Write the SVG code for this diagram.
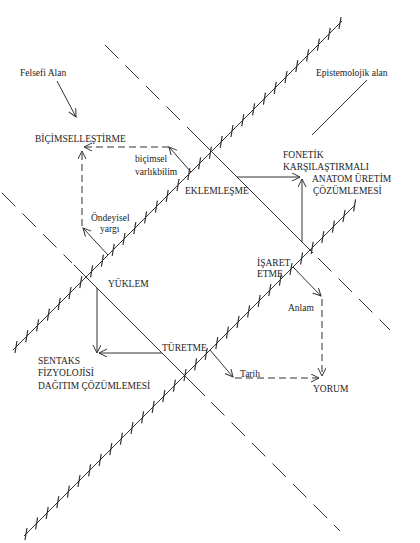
<svg xmlns="http://www.w3.org/2000/svg" width="420" height="543" viewBox="0 0 420 543">
<style>
  text { font-family: "Liberation Serif", "DejaVu Serif", serif; font-size: 9.5px; fill: #222; }
  .ln { stroke: #333; stroke-width: 1; fill: none; }
  .dl { stroke: #333; stroke-width: 1; fill: none; stroke-dasharray: 19 10; }
  .da { stroke: #333; stroke-width: 1; fill: none; stroke-dasharray: 7 4; }
  .tk { stroke: #333; stroke-width: 1.2; fill: none; }
  .arr { marker-end: url(#ah); }
</style>
<defs>
  <marker id="ah" markerUnits="userSpaceOnUse" markerWidth="10" markerHeight="10" refX="8" refY="4" orient="auto">
    <path d="M0,0 L8,4 L0,8" fill="none" stroke="#333" stroke-width="1"/>
  </marker>
</defs>
<rect width="420" height="543" fill="#ffffff"/>

<g id="axes">
  <g id="hatch-upper">
    <line class="ln" x1="13" y1="350" x2="342" y2="21"/>
    <path class="tk" d="M15,353 l2,-12 m8.8,1.2 l2,-12 m8.8,1.2 l2,-12 m8.8,1.2 l2,-12 m8.8,1.2 l2,-12 m8.8,1.2 l2,-12 m8.8,1.2 l2,-12 m8.8,1.2 l2,-12 m8.8,1.2 l2,-12 m8.8,1.2 l2,-12 m8.8,1.2 l2,-12 m8.8,1.2 l2,-12 m8.8,1.2 l2,-12 m8.8,1.2 l2,-12 m8.8,1.2 l2,-12 m8.8,1.2 l2,-12 m8.8,1.2 l2,-12 m8.8,1.2 l2,-12 m8.8,1.2 l2,-12 m8.8,1.2 l2,-12 m8.8,1.2 l2,-12 m8.8,1.2 l2,-12 m8.8,1.2 l2,-12 m8.8,1.2 l2,-12 m8.8,1.2 l2,-12 m8.8,1.2 l2,-12 m8.8,1.2 l2,-12 m8.8,1.2 l2,-12 m8.8,1.2 l2,-12 m8.8,1.2 l2,-12 m8.8,1.2 l2,-12"/>
  </g>
  <g id="hatch-lower">
    <line class="ln" x1="24" y1="536" x2="355" y2="205"/>
    <path class="tk" d="M25,540 l2,-12 m8.6,1.4 l2,-12 m8.6,1.4 l2,-12 m8.6,1.4 l2,-12 m8.6,1.4 l2,-12 m8.6,1.4 l2,-12 m8.6,1.4 l2,-12 m8.6,1.4 l2,-12 m8.6,1.4 l2,-12 m8.6,1.4 l2,-12 m8.6,1.4 l2,-12 m8.6,1.4 l2,-12 m8.6,1.4 l2,-12 m8.6,1.4 l2,-12 m8.6,1.4 l2,-12 m8.6,1.4 l2,-12 m8.6,1.4 l2,-12 m8.6,1.4 l2,-12 m8.6,1.4 l2,-12 m8.6,1.4 l2,-12 m8.6,1.4 l2,-12 m8.6,1.4 l2,-12 m8.6,1.4 l2,-12 m8.6,1.4 l2,-12 m8.6,1.4 l2,-12 m8.6,1.4 l2,-12 m8.6,1.4 l2,-12 m8.6,1.4 l2,-12 m8.6,1.4 l2,-12 m8.6,1.4 l2,-12 m8.6,1.4 l2,-12 m8.6,1.4 l2,-12"/>
  </g>
  <g id="line-a">
    <line class="dl" x1="105" y1="45" x2="198" y2="138"/>
    <line class="ln" x1="198" y1="138" x2="313" y2="253"/>
    <line class="dl" x1="318" y1="258" x2="390" y2="330"/>
  </g>
  <g id="line-b">
    <line class="dl" x1="2" y1="193" x2="72" y2="263"/>
    <line class="ln" x1="74" y1="265" x2="205" y2="396"/>
    <line class="dl" x1="211" y1="402" x2="340" y2="531"/>
  </g>
</g>

<g id="connectors">
  <line class="ln arr" x1="57" y1="81" x2="76" y2="117"/>
  <line class="ln" x1="367" y1="80" x2="312" y2="135"/>
  <line class="ln arr" x1="191" y1="172" x2="169" y2="147"/>
  <line class="da arr" x1="169" y1="147" x2="84" y2="147"/>
  <line class="da arr" x1="82" y1="226" x2="82" y2="151"/>
  <line class="ln arr" x1="108" y1="255" x2="83" y2="228"/>
  <line class="ln arr" x1="237" y1="177" x2="300" y2="177"/>
  <line class="ln arr" x1="302" y1="242" x2="302" y2="179"/>
  <line class="ln arr" x1="97" y1="288" x2="97" y2="353"/>
  <line class="ln arr" x1="162" y1="353" x2="99" y2="353"/>
  <line class="ln arr" x1="210" y1="350" x2="233" y2="377"/>
  <line class="ln arr" x1="293" y1="267" x2="321" y2="296"/>
  <line class="da arr" x1="322" y1="299" x2="322" y2="376"/>
  <line class="da arr" x1="235" y1="378" x2="319" y2="378"/>
</g>

<g id="labels" font-family="'Liberation Serif', 'DejaVu Serif', serif">
<g id="felsefi-alan"><text x="20" y="76">Felsefi Alan</text></g>
<g id="epistemolojik-alan"><text x="316" y="76">Epistemolojik alan</text></g>
<g id="bicimsellestirme"><text x="35" y="142">BİÇİMSELLEŞTİRME</text></g>
<g id="bicimsel-varlikbilim"><text x="135" y="162">biçimsel</text><text x="135" y="175">varlıkbilim</text></g>
<g id="eklemlesme"><text x="185" y="194">EKLEMLEŞME</text></g>
<g id="fonetik"><text x="283" y="158">FONETİK</text><text x="283" y="170">KARŞILAŞTIRMALI</text><text x="312" y="182">ANATOM ÜRETİM</text><text x="313" y="194">ÇÖZÜMLEMESİ</text></g>
<g id="ondeyisel-yargi"><text x="91" y="221">Öndeyisel</text><text x="100" y="232">yargı</text></g>
<g id="yuklem"><text x="108" y="287">YÜKLEM</text></g>
<g id="isaret-etme"><text x="257" y="266">İŞARET</text><text x="257" y="277">ETME</text></g>
<g id="anlam"><text x="288" y="311">Anlam</text></g>
<g id="sentaks"><text x="38" y="364">SENTAKS</text><text x="38" y="376">FİZYOLOJİSİ</text><text x="38" y="389">DAĞITIM ÇÖZÜMLEMESİ</text></g>
<g id="turetme"><text x="162" y="351">TÜRETME</text></g>
<g id="tarih"><text x="240" y="377">Tarih</text></g>
<g id="yorum"><text x="313" y="392">YORUM</text></g>
</g>
</svg>
